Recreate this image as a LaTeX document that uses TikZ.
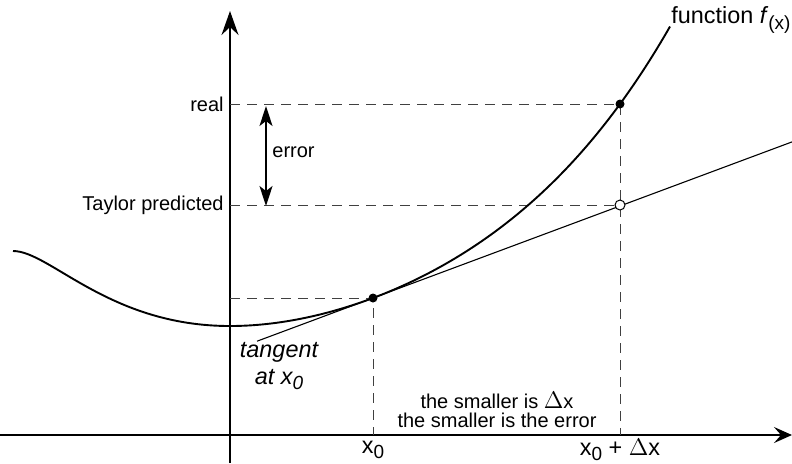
\documentclass[tikz,border=0pt]{standalone}
\usepackage{fontspec}
\setmainfont{Liberation Sans}
\usetikzlibrary{arrows.meta}
\newcommand\lowsub[1]{\raisebox{-0.45ex}{\fontsize{9.5}{11}\selectfont #1}}
\begin{document}
\begin{tikzpicture}[x=0.5pt,y=-0.5pt,
  axisline/.style={line width=1pt},
  curveline/.style={line width=0.95pt},
  thinline/.style={line width=0.55pt},
  dashline/.style={line width=0.5pt, dash pattern=on 5pt off 3.5pt, black!75},
  lbl/.style={font=\fontsize{10}{12}\selectfont, inner sep=0pt},
  biglbl/.style={font=\fontsize{11.7}{14}\selectfont, inner sep=0pt},
  dotfill/.style={circle, fill=black, inner sep=0pt, minimum size=4.5pt},
  dotopen/.style={circle, draw=black, fill=white, line width=0.5pt, inner sep=0pt, minimum size=5pt}]
\useasboundingbox (0,0) rectangle (792,463);
% axes
\coordinate (yb) at (230,463);
\coordinate (yt) at (230,11);
\coordinate (xl) at (0,435);
\coordinate (xr) at (792,435);
\draw[axisline,-{Stealth[length=12pt,width=8.5pt,inset=4pt]}] (yb) -- (yt);
\draw[axisline,-{Stealth[length=9pt,width=8pt,inset=3.5pt]}] (xl) -- (xr);
% key points
\coordinate (yr) at (230,104);
\coordinate (yp) at (230,205);
\coordinate (y0) at (230,298);
\coordinate (b0) at (373,435);
\coordinate (b1) at (620,435);
% dashed guides
\draw[dashline] (yr) -- (620,104) -- (b1);
\draw[dashline] (yp) -- (620,205);
\draw[dashline] (y0) -- (373,298) -- (b0);
% tangent line
\coordinate (ts) at (257,341.2);
\coordinate (te) at (792,141.9);
\draw[thinline] (ts) -- (te);
% function curve
\draw[curveline] (13,251) .. controls (50,251) and (109,326) .. (230,326)
  -- plot[domain=230:670, samples=90, smooth]
  (\x, {326 - (15.764*((\x-230)/100)^2 - 2.113*((\x-230)/100)^3 + 0.465*((\x-230)/100)^4)});
% points
\node[dotfill] (p0) at (373,298) {};
\node[dotfill] (pr) at (620,104) {};
\node[dotopen] (pt) at (620,205) {};
% error arrow
\coordinate (ea) at (266,106);
\coordinate (eb) at (266,206);
\draw[line width=0.8pt,{Stealth[length=10pt,width=6.5pt,inset=2.5pt]}-{Stealth[length=10pt,width=6.5pt,inset=2.5pt]}] (ea) -- (eb);
% labels
\node[lbl, anchor=east] (lreal) at (224,104) {real};
\node[lbl, anchor=east] (ltay) at (224,205) {Taylor predicted};
\node[lbl, anchor=west] (lerr) at (272,152) {error};
\node[biglbl, anchor=west] (lfun) at (671,20) {function \textit{f}\lowsub{(x)}};
\node[biglbl, align=center, font=\fontsize{11.7}{13.5}\selectfont\itshape] (ltan) at (279,366) {tangent\\at x\lowsub{0}};
\node[biglbl] (lx0) at (373,450) {x\lowsub{0}};
\node[biglbl] (lx1) at (620,450) {x\lowsub{0} + {\fontsize{13}{14}\selectfont$\Delta$}x};
\node[lbl, align=center, font=\fontsize{10}{9.5}\selectfont] (lsm) at (497,410) {the smaller is {\fontsize{11.5}{12}\selectfont$\Delta$}x\\the smaller is the error};
\end{tikzpicture}
\end{document}
